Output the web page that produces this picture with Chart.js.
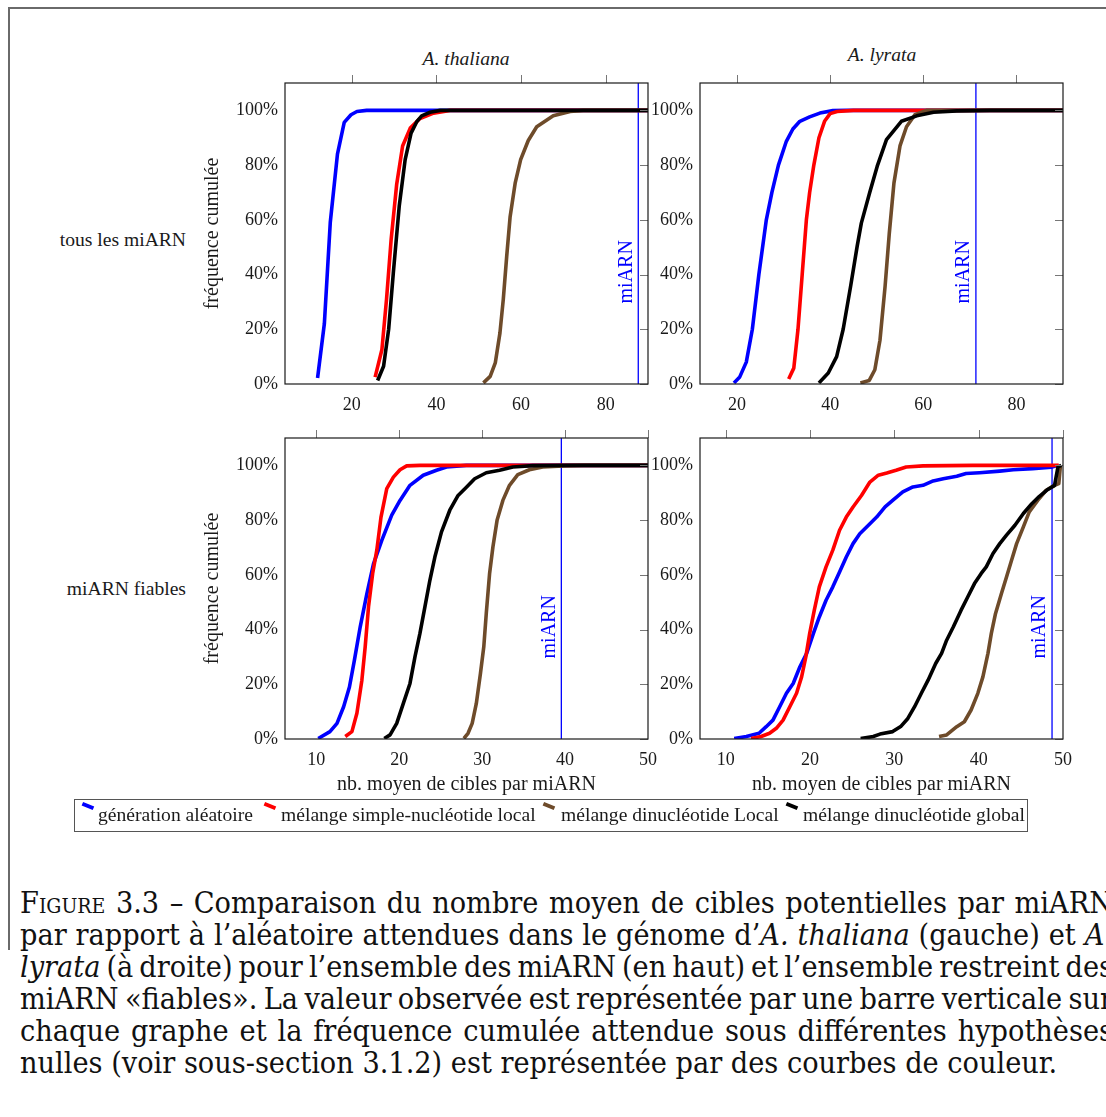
<!DOCTYPE html>
<html><head><meta charset="utf-8">
<script src="https://cdn.jsdelivr.net/npm/chart.js@4.4.1/dist/chart.umd.min.js"></script>
<style>
html,body{margin:0;padding:0;background:#fff;}
body{width:1106px;height:1117px;position:relative;overflow:hidden;font-family:"Liberation Serif",serif;color:#1a1a1a;}
.abs{position:absolute;}
.pan{position:absolute;}
.lab{position:absolute;font-size:19.6px;line-height:22px;white-space:nowrap;}
.mk{position:absolute;width:12px;height:3.5px;transform:rotate(22deg);}
.cap{position:absolute;left:20px;width:1093px;font-family:"DejaVu Serif Condensed","DejaVu Serif",serif;font-stretch:condensed;font-size:25px;line-height:32px;white-space:nowrap;text-align:justify;text-align-last:justify;color:#111;}
.cap.last{text-align:left;text-align-last:left;}
.cap span.in{display:inline;}
</style></head><body>

<div class="abs" style="left:8px;top:7px;width:1098px;height:2px;background:#6a6a6a"></div>
<div class="abs" style="left:8px;top:7px;width:2px;height:943px;background:#6a6a6a"></div>

<div class="lab" style="left:0;width:186px;text-align:right;top:229px">tous les miARN</div>
<div class="lab" style="left:0;width:186px;text-align:right;top:578px">miARN fiables</div>
<div class="lab" style="left:366px;width:200px;text-align:center;top:48px;font-style:italic">A. thaliana</div>
<div class="lab" style="left:782px;width:200px;text-align:center;top:44px;font-style:italic">A. lyrata</div>

<canvas id="c1" class="pan" width="475" height="360" style="left:195px;top:65px;width:475px;height:360px"></canvas>
<canvas id="c2" class="pan" width="443" height="360" style="left:640px;top:65px;width:443px;height:360px"></canvas>
<canvas id="c3" class="pan" width="475" height="380" style="left:195px;top:420px;width:475px;height:380px"></canvas>
<canvas id="c4" class="pan" width="443" height="380" style="left:640px;top:420px;width:443px;height:380px"></canvas>

<div class="abs" style="left:74px;top:799px;width:954px;height:33px;border:1.3px solid #555;box-sizing:border-box"></div>
<div class="mk" style="left:82px;top:804px;background:#0000ff"></div>
<div class="lab" style="left:98px;top:804px">génération aléatoire</div>
<div class="mk" style="left:264px;top:804px;background:#ff0000"></div>
<div class="lab" style="left:281px;top:804px">mélange simple-nucléotide local</div>
<div class="mk" style="left:543px;top:804px;background:#6e4b2a"></div>
<div class="lab" style="left:561px;top:804px">mélange dinucléotide Local</div>
<div class="mk" style="left:786px;top:804px;background:#000"></div>
<div class="lab" style="left:803px;top:804px">mélange dinucléotide global</div>

<div class="cap" style="top:887px"><span class="in"><span style="font-variant:small-caps">Figure</span> 3.3 – Comparaison du nombre moyen de cibles potentielles par miARN</span></div>
<div class="cap" style="top:919px"><span class="in">par rapport à l’aléatoire attendues dans le génome d’<i>A. thaliana</i> (gauche) et <i>A.</i></span></div>
<div class="cap" style="top:951px"><span class="in"><i>lyrata</i> (à droite) pour l’ensemble des miARN (en haut) et l’ensemble restreint des</span></div>
<div class="cap" style="top:983px"><span class="in">miARN «fiables». La valeur observée est représentée par une barre verticale sur</span></div>
<div class="cap" style="top:1015px"><span class="in">chaque graphe et la fréquence cumulée attendue sous différentes hypothèses</span></div>
<div class="cap last" style="top:1047px"><span class="in" id="lastspan">nulles (voir sous-section 3.1.2) est représentée par des courbes de couleur.</span></div>

<script>
// ---- data: [x, cumulative %] ----
const thalAll_blue  = [[11.9,2.2],[13.5,22],[14.9,59],[16.6,84],[18.2,95.6],[19.8,98.4],[21.2,99.6],[23.5,100],[90,100]];
const thalAll_red   = [[25.5,2.5],[27.1,12.5],[28.2,31],[29.3,53],[30.6,73],[32,87],[33.8,93.5],[36.1,97],[39.3,99],[43.2,100],[90,100]];
const thalAll_brown = [[51.1,0.4],[52.7,2.8],[53.9,7.7],[55,18.6],[55.8,31],[56.6,46.6],[57.4,61],[58.6,73.4],[59.9,82],[61.7,89],[63.7,94],[67.6,98],[71.6,99.6],[74.7,100],[90,100]];
const thalAll_black = [[26.1,1.3],[27.5,6.5],[28.7,20],[29.8,40.5],[31.2,65],[32.6,82],[34,91.7],[35.4,96],[36.5,98],[38.5,99.3],[40.9,100],[90,100]];

const lyrAll_blue  = [[19.35,0.4],[20.6,2.6],[22,8],[23.3,20],[24.7,40],[26.3,60],[27.5,70],[28.9,80],[30.6,88.7],[32,93.2],[33.5,96],[35.6,97.6],[37.8,99],[40.6,99.9],[43.5,100],[90,100]];
const lyrAll_red   = [[31.1,1.8],[32.2,5.8],[33.1,20],[34,40],[34.9,60],[35.6,70],[36.5,80],[37.6,90],[38.8,96],[40,98.8],[41.5,99.6],[45,100],[90,100]];
const lyrAll_brown = [[46.5,0.4],[48.4,1.3],[49.6,5.2],[50.7,16],[51.8,35.7],[52.7,55],[53.7,73.4],[55,87],[56.4,94],[58.2,98.4],[60.7,100],[90,100]];
const lyrAll_black = [[37.6,0.4],[39.6,4],[41.4,10],[42.8,20],[44.4,35.7],[45.8,50.3],[46.7,58.8],[48.5,70],[50.1,79.5],[52.1,89.3],[55.3,96],[58.6,98],[62.2,99.3],[67.2,99.8],[74.3,100],[90,100]];

const thalFia_blue  = [[10.24,0.2],[11.65,2.7],[12.5,5.7],[13.3,11.8],[14,19],[14.6,28.8],[15.3,41],[16.1,53],[16.9,64],[17.9,72.6],[19.1,81.8],[20.1,87.2],[21.3,92.7],[22.9,96.4],[24.5,98.2],[25.7,99.4],[28.1,100],[50,100]];
const thalFia_red   = [[13.5,0.9],[14.3,2.7],[14.9,9.4],[15.5,21.5],[15.9,33.7],[16.3,48.3],[16.8,60.5],[17.3,69],[17.8,81],[18.5,91.5],[19.3,95.7],[20.1,98.4],[20.9,99.8],[22.5,100],[50,100]];
const thalFia_brown = [[27.8,0.2],[28.3,2.1],[28.8,5.7],[29.3,13],[29.8,24],[30.2,33.7],[30.5,45.9],[30.9,60.5],[31.3,70.2],[31.8,79.9],[32.5,87.2],[33.3,92.7],[34.3,96.6],[35.7,98.4],[37.3,99.4],[39.8,99.8],[42.2,100],[50,100]];
const thalFia_black = [[18.2,0.2],[18.9,1.5],[19.7,5.7],[20.5,13],[21.3,20.3],[21.9,30],[22.5,38.6],[23.1,48.3],[23.7,58],[24.3,66.5],[25.1,75.7],[26.1,83.6],[27.1,89],[28.1,92],[29.1,95.1],[30.5,97.3],[32.1,98.2],[33.7,99.4],[36.1,99.9],[40.2,100],[50,100]];

const lyrFia_blue  = [[11,0.2],[12.45,0.9],[13.95,2.1],[14.8,4.5],[15.6,6.9],[16.4,11.8],[17.2,16.7],[18,20.3],[18.8,26.4],[19.6,31.3],[20.4,38.6],[21.1,44.6],[21.9,50.7],[22.7,55.6],[23.5,61],[24.3,66.5],[25.1,71.4],[25.9,75],[27.1,78.7],[27.9,81.1],[28.9,84.8],[29.8,87.2],[31,90.3],[32.2,92.1],[33.4,92.7],[34.6,94.3],[35.8,95.1],[37.4,96],[38.5,97],[40.1,97.3],[42.5,97.9],[44.1,98.4],[46.4,98.8],[48.6,99.3],[49.4,100]];
const lyrFia_red   = [[13,0.2],[14.2,0.9],[15.2,2.1],[16,3.9],[16.8,6.9],[17.6,11.8],[18.4,16.7],[19,22.7],[19.5,30],[19.96,38.6],[20.5,47],[21.1,55.6],[21.9,62.9],[22.7,69],[23.5,76.3],[24.3,81.1],[25.1,84.8],[26.1,89],[27.1,93.9],[28.1,96.4],[29.1,97.2],[30.2,98.2],[31.4,99.4],[33.4,99.8],[39.3,100],[49.5,100]];
const lyrFia_brown = [[35.3,0.9],[36.2,1.5],[37.4,4.5],[38.3,6.3],[39.1,10.6],[39.9,16.7],[40.5,22.7],[41.1,31.3],[41.5,38.6],[42,45.9],[42.7,53.2],[43.3,59.2],[43.9,65.3],[44.5,71.4],[45.3,77.5],[46,83],[47,87.2],[48,90.9],[49,92.7],[49.5,93.3],[49.7,100]];
const lyrFia_black = [[26,0.2],[27.5,0.9],[28.3,1.8],[29.8,2.7],[30.8,4.7],[31.6,7.5],[32.4,11.8],[33.2,16.7],[34,21.5],[34.9,27.6],[35.6,31.3],[36.2,36.1],[37,41],[37.9,47],[38.7,51.9],[39.5,56.8],[40.3,60.5],[40.9,62.9],[41.7,67.8],[42.5,71.4],[43.3,74.5],[44.3,78.1],[45.3,82.4],[46.3,86],[47.2,88.7],[48.2,91.2],[49,92.7],[49.4,99.4],[49.8,100]];

// observed values (vertical bars)
const miarnObserved = [87.7, 71.3, 39.55, 48.7];
const xRanges = [[4.2,90],[12.06,90],[6.23,50],[6.95,50]];
const xSteps = [20,20,10,10];
const yTickValues = [0,20,40,60,80,100];
const seriesNames = ['génération aléatoire','mélange simple-nucléotide local','mélange dinucléotide Local','mélange dinucléotide global'];
const seriesColors = ['#0000ff','#ff0000','#6e4b2a','#000000'];

const panelsData = [
  [thalAll_blue, thalAll_red, thalAll_brown, thalAll_black],
  [lyrAll_blue, lyrAll_red, lyrAll_brown, lyrAll_black],
  [thalFia_blue, thalFia_red, thalFia_brown, thalFia_black],
  [lyrFia_blue, lyrFia_red, lyrFia_brown, lyrFia_black]
];

const FONT = '"Liberation Serif", serif';
const decor = {
  id: 'decor',
  beforeDatasetsDraw(chart, args, opts) {
    const {ctx, chartArea: a, scales: {x, y}} = chart;
    const px = x.getPixelForValue(opts.miarn);
    ctx.save();
    ctx.strokeStyle = '#0000ff'; ctx.lineWidth = 1.3;
    ctx.beginPath(); ctx.moveTo(px, a.top); ctx.lineTo(px, a.bottom); ctx.stroke();
    ctx.translate(px - 12, y.getPixelForValue(41));
    ctx.rotate(-Math.PI / 2);
    ctx.fillStyle = '#0000ff'; ctx.font = '20px ' + FONT;
    ctx.textAlign = 'center'; ctx.textBaseline = 'middle';
    ctx.fillText('miARN', 0, 0);
    ctx.restore();
  },
  afterDatasetsDraw(chart) {
    const {ctx, chartArea: a, scales: {x, y}} = chart;
    ctx.save();
    ctx.strokeStyle = '#777'; ctx.lineWidth = 1;
    x.ticks.forEach(t => {
      const p = Math.round(x.getPixelForValue(t.value)) + 0.5;
      ctx.beginPath(); ctx.moveTo(p, a.top); ctx.lineTo(p, a.top - 8); ctx.stroke();
    });
    y.ticks.forEach(t => {
      const q = Math.round(y.getPixelForValue(t.value)) + 0.5;
      ctx.beginPath(); ctx.moveTo(a.right, q); ctx.lineTo(a.right - 8, q); ctx.stroke();
    });
    ctx.strokeStyle = '#1a1a1a'; ctx.lineWidth = 1.2;
    ctx.strokeRect(a.left, a.top, a.right - a.left, a.bottom - a.top);
    ctx.restore();
  }
};

function makePanel(id, idx, yTitle, xTitle, yWidth, xHeight, padRight) {
  const ds = panelsData[idx].map((pts, i) => ({
    label: seriesNames[i],
    data: pts.map(p => ({x: p[0], y: p[1]})),
    borderColor: seriesColors[i],
    backgroundColor: seriesColors[i],
    borderWidth: 3.6,
    pointRadius: 0,
    tension: 0,
    fill: false,
    order: 4 - i,
    borderJoinStyle: 'round'
  }));
  new Chart(document.getElementById(id), {
    type: 'line',
    data: {datasets: ds},
    plugins: [decor],
    options: {
      responsive: false, animation: false, events: [],
      layout: {padding: {left: 0, top: 18, right: padRight, bottom: 0}},
      plugins: {legend: {display: false}, tooltip: {enabled: false}, decor: {miarn: miarnObserved[idx]}},
      scales: {
        x: {
          type: 'linear', min: xRanges[idx][0], max: xRanges[idx][1],
          grid: {display: false, drawTicks: false}, border: {display: false},
          ticks: {stepSize: xSteps[idx], includeBounds: false, padding: 10, color: '#1a1a1a', font: {family: FONT, size: 18}, maxRotation: 0},
          title: {display: !!xTitle, text: xTitle || '', color: '#1a1a1a', font: {family: FONT, size: 20}, padding: {top: 0, bottom: 3}},
          afterFit: s => { s.height = xHeight; }
        },
        y: {
          type: 'linear', min: 0, max: 110,
          grid: {display: false, drawTicks: false}, border: {display: false},
          afterBuildTicks: s => { s.ticks = yTickValues.map(v => ({value: v})); },
          ticks: {padding: 7, color: '#1a1a1a', font: {family: FONT, size: 18}, callback: v => v + '%'},
          title: {display: !!yTitle, text: yTitle || '', color: '#1a1a1a', font: {family: FONT, size: 20}, padding: {top: 6, bottom: 0}},
          afterFit: s => { s.width = yWidth; }
        }
      }
    }
  });
}

makePanel('c1', 0, 'fréquence cumulée', null, 90, 41, 22);
makePanel('c2', 1, null, null, 60, 41, 20);
makePanel('c3', 2, 'fréquence cumulée', 'nb. moyen de cibles par miARN', 90, 61, 22);
makePanel('c4', 3, null, 'nb. moyen de cibles par miARN', 60, 61, 20);

// caption: size the font from the last (unjustified) line, then tighten word spacing of justified lines that overflow
(function fitCaption(){
  const caps = document.querySelectorAll('.cap');
  const sp = document.getElementById('lastspan');
  const w = sp.getBoundingClientRect().width;
  const size = 25 * 1037 / w;
  caps.forEach(el => el.style.fontSize = size.toFixed(2) + 'px');
  caps.forEach(el => {
    if (el.classList.contains('last')) return;
    const inner = el.querySelector('span.in');
    const nw = inner.getBoundingClientRect().width;
    const spaces = (inner.textContent.match(/ /g) || []).length;
    if (nw > 1088 && spaces) el.style.wordSpacing = ((1088 - nw) / spaces).toFixed(2) + 'px';
  });
})();
</script>
</body></html>
